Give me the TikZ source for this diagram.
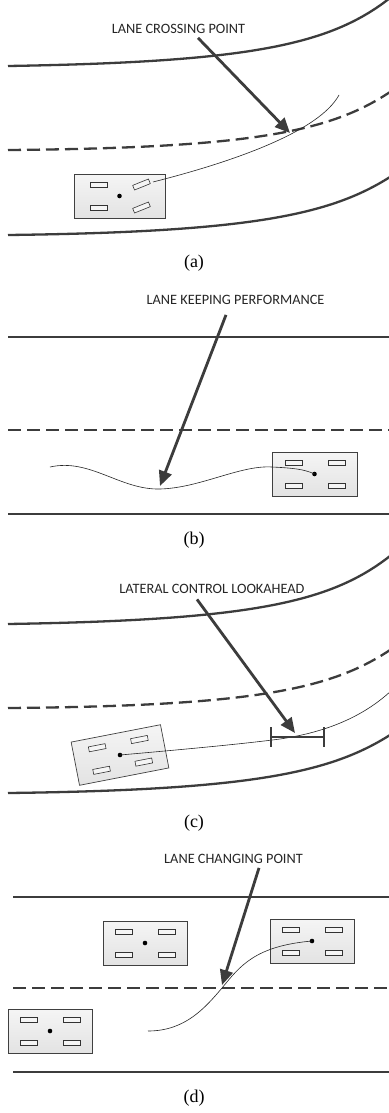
\documentclass[tikz,border=0pt]{standalone}
\usepackage{fontspec}
\setmainfont{Liberation Serif}
\newfontfamily\lblfont{Carlito}
\usetikzlibrary{arrows.meta}
\definecolor{roadc}{HTML}{3C3C3C}
\tikzset{
  road/.style={line width=2.3pt, draw=roadc},
  laneline/.style={road, dash pattern=on 13pt off 6pt},
  traj/.style={line width=0.6pt, draw=black!85},
  pointer/.style={line width=2.8pt, draw=roadc, -{Triangle[length=15pt,width=13pt]}},
  lookbar/.style={line width=2.4pt, draw=roadc},
  lbl/.style={font=\lblfont\fontsize{14.3}{16}\selectfont, text=black!85, inner sep=0pt},
  capt/.style={font=\fontsize{18}{20}\selectfont, inner sep=0pt},
  body/.style={draw=black!75, line width=0.7pt, top color=white!96!black, bottom color=black!11},
  wheel/.style={draw=black!80, line width=0.6pt, fill=white!96!black},
  hub/.style={fill=black, circle, inner sep=0pt, minimum size=4.6pt},
  pics/car/.style n args={2}{code={
    \draw[body] (-#1/2,-22) rectangle (#1/2,22);
    \draw[wheel] (-21-8.5,-11.5-2.5) rectangle (-21+8.5,-11.5+2.5);
    \draw[wheel] (-21-8.5,11.5-2.5) rectangle (-21+8.5,11.5+2.5);
    \draw[wheel, shift={(22,-11.5)}, rotate=#2] (-8.5,-2.5) rectangle (8.5,2.5);
    \draw[wheel, shift={(22,11.5)}, rotate=#2] (-8.5,-2.5) rectangle (8.5,2.5);
    \node[hub] (-dot) at (0,0) {};
  }}
}
\begin{document}
\begin{tikzpicture}[x=1pt,y=-1pt]
\useasboundingbox (0,0) rectangle (388,1113);
\fill[white] (0,0) rectangle (388,1113);

% ---------------- (a) ----------------
\draw[road] (8,66) .. controls (250,62) and (330,45) .. (390,-2);
\draw[laneline] (8,150) .. controls (250,148) and (330,132) .. (390,92);
\draw[road] (8,235) .. controls (250,232) and (330,215) .. (390,177);
\pic (ca) at (119.5,196) {car={91}{22}};
\coordinate (sa) at (153,182);
\coordinate (ea) at (339,95);
\draw[traj] (sa) .. controls (240,160) and (320,130) .. (ea);
\node[lbl] (la) at (178.5,29) {LANE CROSSING POINT};
\coordinate (ta) at (290,133);
\draw[pointer] ([xshift=19.5pt,yshift=-4pt]la.south) -- (ta);
\node[capt] (capa) at (194,263) {(a)};

% ---------------- (b) ----------------
\draw[road] (8,337) -- (390,337);
\draw[laneline] (8,430) -- (390,430);
\draw[road] (8,514) -- (390,514);
\pic (cb) at (314.5,474) {car={85}{0}};
\coordinate (sb) at (50,467);
\draw[traj] (sb) .. controls (90,458) and (120,490) .. (160,489)
  .. controls (200,488) and (240,465) .. (272,467)
  .. controls (292,468) and (304,469) .. (cb-dot.center);
\node[lbl] (lb) at (235.5,300) {LANE KEEPING PERFORMANCE};
\coordinate (tb) at (160,486);
\draw[pointer] ([xshift=-9.5pt,yshift=-10pt]lb.south) -- (tb);
\node[capt] (capb) at (194,540) {(b)};

% ---------------- (c) ----------------
\begin{scope}[shift={(0,558)}]
\draw[road] (8,66) .. controls (250,62) and (330,45) .. (390,-2);
\draw[laneline] (8,150) .. controls (250,148) and (330,132) .. (390,92);
\draw[road] (8,235) .. controls (250,232) and (330,215) .. (390,177);
\end{scope}
\pic[rotate=11] (cc) at (120,755) {car={91}{0}};
\coordinate (lk1) at (271,737);
\coordinate (lk2) at (324,737);
\coordinate (ec) at (392,690);
\draw[traj] (cc-dot.center) .. controls (200,748) and (250,743) .. (280,739)
  .. controls (320,733) and (360,720) .. (ec);
\draw[lookbar] (lk1) -- (lk2);
\draw[lookbar] ([yshift=10pt]lk1) -- ([yshift=-10pt]lk1);
\draw[lookbar] ([yshift=10pt]lk2) -- ([yshift=-10pt]lk2);
\node[lbl] (lc) at (212,588.5) {LATERAL CONTROL LOOKAHEAD};
\coordinate (tc) at (295,733);
\draw[pointer] ([xshift=-15pt,yshift=-6pt]lc.south) -- (tc);
\node[capt] (capc) at (194,823) {(c)};

% ---------------- (d) ----------------
\draw[road] (13,897) -- (390,897);
\draw[laneline] (13,988) -- (390,988);
\draw[road] (13,1072) -- (390,1072);
\pic (cd1) at (145,943) {car={84}{0}};
\pic (cd2) at (312,941) {car={84}{0}};
\pic (cd3) at (50,1031) {car={84}{0}};
\coordinate (sd) at (148,1031);
\draw[traj] (sd) .. controls (185,1031) and (205,1008) .. (222,988)
  .. controls (240,966) and (255,946) .. (cd2-dot.center);
\node[lbl] (ld) at (233.5,859) {LANE CHANGING POINT};
\coordinate (td) at (222,985);
\draw[pointer] ([xshift=25.5pt,yshift=-4pt]ld.south) -- (td);
\node[capt] (capd) at (194,1098) {(d)};
\end{tikzpicture}
\end{document}
